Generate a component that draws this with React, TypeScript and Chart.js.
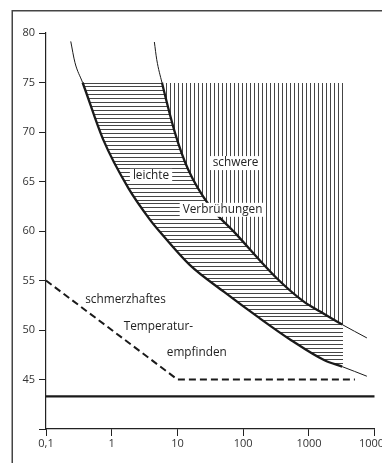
import React, { useEffect, useRef } from 'react';
import { Chart, registerables } from 'chart.js';

Chart.register(...registerables);

// ---- data ----
const xTicks = [0.1, 1, 10, 100, 1000, 10000];
const xTickLabels = ['0,1', '1', '10', '100', '1000', '10000'];
const yTickLabels = ['', '45', '50', '55', '60', '65', '70', '75', '80'];

// boundary curve: "leichte Verbrühungen" (lower / left curve)
const lightX = [0.238, 0.276, 0.36, 0.745, 1.79, 3.83, 5.43, 15.5, 51.2, 167, 536, 1722, 3200, 7600];
const lightY = [79.15, 77.0, 75.0, 69.2, 64.33, 61.13, 59.9, 56.55, 53.85, 51.32, 48.97, 46.94, 46.3, 45.33];

// boundary curve: "schwere Verbrühungen" (upper / right curve)
const severeX = [4.45, 4.84, 5.8, 9.19, 14.6, 31.3, 72.6, 324, 845, 1480, 3200, 7600];
const severeY = [79.09, 77.3, 75.0, 69.89, 66.18, 62.47, 59.91, 55.23, 52.84, 51.86, 50.55, 49.2];

// schmerzhaftes Temperaturempfinden (dashed)
const painX = [0.1, 1, 10, 5000];
const painY = [55, 50, 45, 45];

// solid threshold line
const limitX = [0.1, 10000];
const limitY = [43.3, 43.3];

// hatched area bounds
const hatchTop = 75;
const hatchRight = 3200;

// text labels
const labelTexts = ['leichte', 'schwere', 'Verbrühungen', 'schmerzhaftes', 'Temperatur-', 'empfinden'];
const labelX = [3.96, 76.6, 48.5, 1.62, 5.12, 19.7];
const labelY = [65.57, 66.86, 62.14, 53.07, 50.38, 47.68];
const labelBoxed = [true, true, true, false, false, false];

const FONT = '"Open Sans", "DejaVu Sans", sans-serif';

const zip = (xs: number[], ys: number[]) => xs.map((x, i) => ({ x, y: ys[i] }));

const lightThickStart = lightY.indexOf(hatchTop);
const lightThickEnd = lightX.indexOf(hatchRight);
const severeThickStart = severeY.indexOf(hatchTop);
const severeThickEnd = severeX.indexOf(hatchRight);

// trace a dataset's rendered (bezier) curve as one continuous sub-path
const traceCurve = (ctx: CanvasRenderingContext2D, pts: any[]) => {
  pts.forEach((p: any, i: number) => {
    if (i === 0) {
      ctx.moveTo(p.x, p.y);
    } else {
      const q = pts[i - 1];
      if (q.cp2x !== undefined && p.cp1x !== undefined) {
        ctx.bezierCurveTo(q.cp2x, q.cp2y, p.cp1x, p.cp1y, p.x, p.y);
      } else {
        ctx.lineTo(p.x, p.y);
      }
    }
  });
};

const hatchPlugin = {
  id: 'hatch',
  beforeDatasetsDraw(chart: any) {
    const ctx = chart.ctx as CanvasRenderingContext2D;
    const area = chart.chartArea;
    const xs = chart.scales.x;
    const ys = chart.scales.y;
    const l1 = chart.getDatasetMeta(0).dataset;
    const l2 = chart.getDatasetMeta(1).dataset;
    if (!l1 || !l2) return;
    l1.updateControlPoints(area, 'x');
    l2.updateControlPoints(area, 'x');
    const W = chart.width;
    const H = chart.height;
    const py = ys.getPixelForValue(hatchTop);
    const px = xs.getPixelForValue(hatchRight);
    const p1 = l1.points;
    const p2 = l2.points;
    const f1 = p1[0], e1 = p1[p1.length - 1];
    const f2 = p2[0], e2 = p2[p2.length - 1];

    const clipAbove = (pts: any[], f: any, e: any) => {
      ctx.beginPath();
      traceCurve(ctx, pts);
      ctx.lineTo(W, e.y);
      ctx.lineTo(W, 0);
      ctx.lineTo(f.x, 0);
      ctx.closePath();
      ctx.clip();
    };
    const clipBelow = (pts: any[], f: any, e: any) => {
      ctx.beginPath();
      traceCurve(ctx, pts);
      ctx.lineTo(e.x, H);
      ctx.lineTo(0, H);
      ctx.lineTo(0, f.y);
      ctx.closePath();
      ctx.clip();
    };

    const top = Math.round(py) + 0.5;
    const right = Math.round(px) + 0.5;

    ctx.strokeStyle = '#454545';
    ctx.lineWidth = 1;

    // horizontal hatching between the curves
    ctx.save();
    clipAbove(p1, f1, e1);
    clipBelow(p2, f2, e2);
    ctx.beginPath();
    ctx.rect(0, top - 0.5, right + 0.5, H);
    ctx.clip();
    ctx.beginPath();
    for (let y = py; y < H; y += 3.9) {
      const yy = Math.round(y) + 0.5;
      ctx.moveTo(0, yy);
      ctx.lineTo(right + 0.5, yy);
    }
    ctx.stroke();
    ctx.restore();

    // vertical hatching right of upper curve
    ctx.save();
    clipAbove(p2, f2, e2);
    ctx.beginPath();
    ctx.rect(0, top - 0.5, right + 0.5, H);
    ctx.clip();
    ctx.beginPath();
    for (let x = right; x > 0; x -= 4) {
      ctx.moveTo(x, top - 0.5);
      ctx.lineTo(x, H);
    }
    ctx.stroke();
    ctx.restore();
  },
};

const labelPlugin = {
  id: 'labels',
  afterDatasetsDraw(chart: any) {
    const ctx = chart.ctx as CanvasRenderingContext2D;
    const xs = chart.scales.x;
    const ys = chart.scales.y;
    ctx.save();
    ctx.font = `11.8px ${FONT}`;
    ctx.textAlign = 'center';
    ctx.textBaseline = 'middle';
    labelTexts.forEach((t, i) => {
      const x = xs.getPixelForValue(labelX[i]);
      const y = ys.getPixelForValue(labelY[i]);
      const w = ctx.measureText(t).width;
      if (labelBoxed[i]) {
        ctx.fillStyle = '#ffffff';
        ctx.fillRect(x - w / 2 - 3, y - 7, w + 6, 14);
      }
      ctx.fillStyle = '#222222';
      ctx.fillText(t, x, y);
    });
    ctx.restore();
  },
  afterDraw(chart: any) {
    const ctx = chart.ctx as CanvasRenderingContext2D;
    ctx.save();
    ctx.strokeStyle = '#444444';
    ctx.lineWidth = 1.5;
    ctx.beginPath();
    ctx.moveTo(12.25, chart.height);
    ctx.lineTo(12.25, 10.75);
    ctx.lineTo(chart.width, 10.75);
    ctx.stroke();
    ctx.restore();
  },
};

export default function App() {
  const ref = useRef<HTMLCanvasElement>(null);
  useEffect(() => {
    document.body.style.margin = '0';
    const canvas = ref.current;
    if (!canvas) return;
    const chart = new Chart(canvas, {
      type: 'scatter',
      data: {
        datasets: [
          {
            data: zip(lightX, lightY),
            showLine: true,
            borderColor: '#1a1a1a',
            borderWidth: 1,
            pointRadius: 0,
            cubicInterpolationMode: 'monotone',
            segment: {
              borderWidth: (c: any) =>
                c.p0DataIndex >= lightThickStart && c.p1DataIndex <= lightThickEnd ? 2.3 : 1,
            },
          } as any,
          {
            data: zip(severeX, severeY),
            showLine: true,
            borderColor: '#1a1a1a',
            borderWidth: 1,
            pointRadius: 0,
            cubicInterpolationMode: 'monotone',
            segment: {
              borderWidth: (c: any) =>
                c.p0DataIndex >= severeThickStart && c.p1DataIndex <= severeThickEnd ? 2.3 : 1,
            },
          } as any,
          {
            data: zip(painX, painY),
            showLine: true,
            borderColor: '#1a1a1a',
            borderWidth: 2,
            borderDash: [7, 4],
            pointRadius: 0,
            tension: 0,
          },
          {
            data: zip(limitX, limitY),
            showLine: true,
            borderColor: '#1a1a1a',
            borderWidth: 2.2,
            pointRadius: 0,
          },
        ],
      },
      options: {
        responsive: false,
        animation: false,
        devicePixelRatio: 1,
        layout: { padding: { top: 33, right: 7.3, bottom: 0, left: 0 } },
        plugins: {
          legend: { display: false },
          tooltip: { enabled: false },
        },
        events: [],
        scales: {
          x: {
            type: 'logarithmic',
            min: 0.1,
            max: 10000,
            position: 'bottom',
            afterBuildTicks: (s: any) => {
              s.ticks = xTicks.map((v) => ({ value: v }));
            },
            afterFit: (s: any) => {
              s.height = 34;
              s.paddingLeft = 0;
              s.paddingRight = 0;
            },
            ticks: {
              autoSkip: false,
              maxRotation: 0,
              padding: 1,
              color: '#333333',
              font: { family: FONT, size: 11 },
              callback: (_v: any, i: number) => xTickLabels[i],
            },
            grid: {
              display: true,
              drawOnChartArea: false,
              drawTicks: true,
              tickLength: 7,
              color: '#222222',
              lineWidth: 1,
            },
            border: { display: true, color: '#222222', width: 1.2 },
          },
          y: {
            type: 'linear',
            min: 40,
            max: 80,
            afterFit: (s: any) => {
              s.width = 46;
              s.paddingTop = 0;
              s.paddingBottom = 0;
            },
            ticks: {
              stepSize: 5,
              padding: 4,
              color: '#333333',
              font: { family: FONT, size: 11 },
              callback: (_v: any, i: number) => yTickLabels[i],
            },
            grid: {
              display: true,
              drawOnChartArea: false,
              drawTicks: true,
              tickLength: 7,
              color: '#222222',
              lineWidth: 1,
            },
            border: { display: true, color: '#222222', width: 1.2 },
          },
        },
      },
      plugins: [hatchPlugin, labelPlugin],
    });
    return () => chart.destroy();
  }, []);
  return (
    <div style={{ width: 382, height: 463 }}>
      <canvas ref={ref} width={382} height={463} style={{ display: 'block' }} />
    </div>
  );
}
